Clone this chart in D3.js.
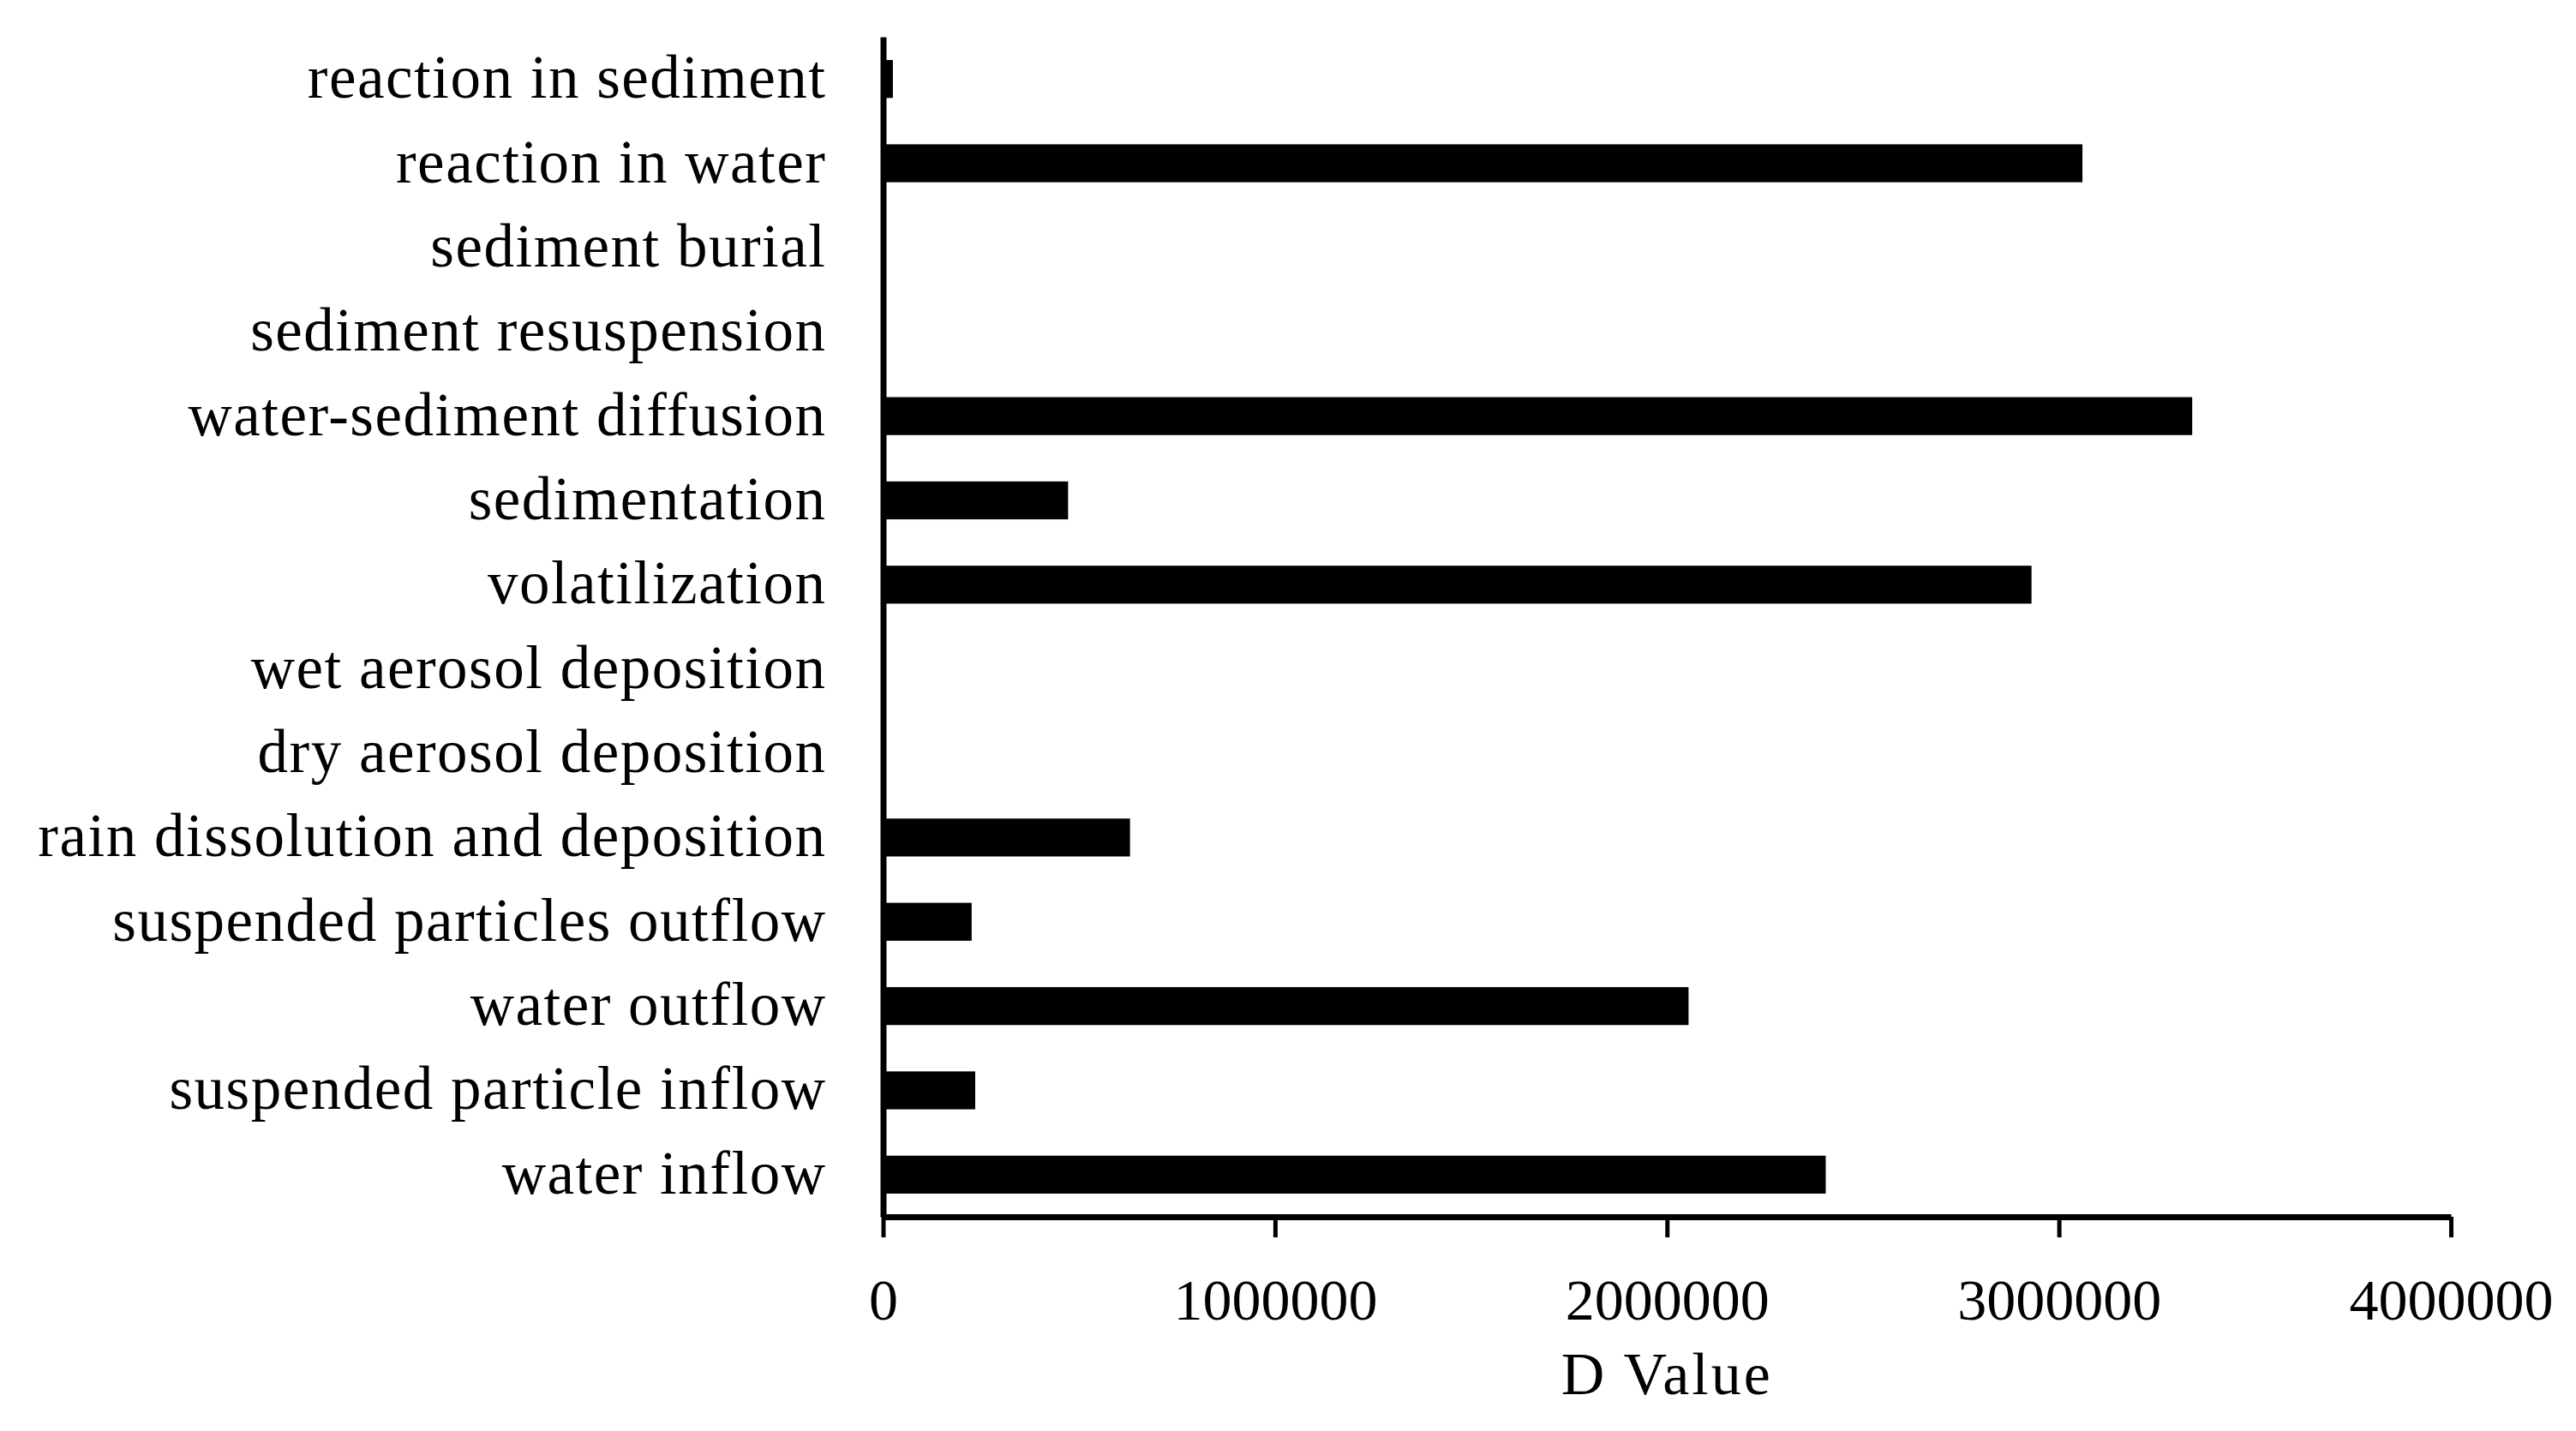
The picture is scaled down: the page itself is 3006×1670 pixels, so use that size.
<!DOCTYPE html>
<html>
<head>
<meta charset="utf-8">
<script src="https://d3js.org/d3.v7.min.js"></script>
<style>
    body { margin: 0; background: #fff; }
    svg { display: block; }
    text { font-family: "Liberation Serif", "Times New Roman", serif; fill: #000; }
</style>
</head>
<body>
<div id="chart"></div>
<script>

// processes, top to bottom
var processes = [
    "reaction in sediment",
    "reaction in water",
    "sediment burial",
    "sediment resuspension",
    "water-sediment diffusion",
    "sedimentation",
    "volatilization",
    "wet aerosol deposition",
    "dry aerosol deposition",
    "rain dissolution and deposition",
    "suspended particles outflow",
    "water outflow",
    "suspended particle inflow",
    "water inflow"
];

// D values
var dValues = [25000, 3060000, 0, 0, 3340000, 472000, 2930000, 0, 0, 630000, 226000, 2055000, 235000, 2405000];

var xTicks = [0, 1000000, 2000000, 3000000, 4000000];
var xTitle = "D Value";

var width = 3006,
    height = 1670;

var data = processes.map(function(p, i) {
    return {name: p, value: dValues[i]};
});

var svg = d3.select("#chart").append("svg")
    .attr("width", width)
    .attr("height", height);

svg.append("rect")
    .attr("width", width)
    .attr("height", height)
    .attr("fill", "#fff");

var x = d3.scaleLinear()
    .domain([0, 4000000])
    .range([1030.5, 2860]);

var y = d3.scaleBand()
    .domain(processes)
    .range([43, 1420])
    .paddingInner(0.55)
    .paddingOuter(0.275);

// bars
svg.selectAll("rect.bar")
    .data(data)
    .enter().append("rect")
    .attr("class", "bar")
    .attr("x", x(0))
    .attr("y", function(d) { return y(d.name); })
    .attr("width", function(d) { return x(d.value) - x(0); })
    .attr("height", y.bandwidth())
    .attr("fill", "#000");

// y axis
var yAxis = svg.append("g")
    .attr("transform", "translate(" + x(0) + ",0)")
    .call(d3.axisLeft(y).tickSize(0).tickPadding(66));

yAxis.select(".domain")
    .attr("stroke", "#000")
    .attr("stroke-width", 7);

yAxis.selectAll("text")
    .attr("font-size", 71)
    .attr("letter-spacing", 1.5)
    .attr("font-family", "Liberation Serif")
    .attr("dy", "0.31em");

// x axis
var xAxis = svg.append("g")
    .attr("transform", "translate(0," + 1420 + ")")
    .call(d3.axisBottom(x)
        .tickValues(xTicks)
        .tickFormat(d3.format("d"))
        .tickSize(24)
        .tickSizeOuter(0)
        .tickPadding(48));

xAxis.select(".domain")
    .attr("stroke", "#000")
    .attr("stroke-width", 7);

xAxis.selectAll(".tick line")
    .attr("stroke", "#000")
    .attr("stroke-width", 5);

xAxis.selectAll("text")
    .attr("font-size", 68)
    .attr("font-family", "Liberation Serif");

// axis title
svg.append("text")
    .attr("x", (x.range()[0] + x.range()[1]) / 2)
    .attr("y", 1627)
    .attr("text-anchor", "middle")
    .attr("font-size", 70)
    .attr("letter-spacing", 3)
    .text(xTitle);

</script>
</body>
</html>
